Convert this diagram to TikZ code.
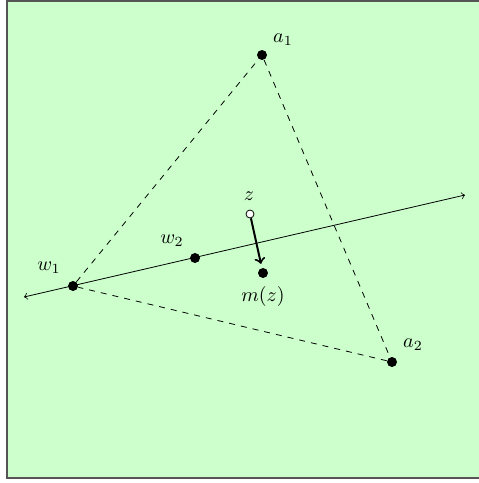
\documentclass[tikz,border=0pt]{standalone}
\definecolor{bgfill}{HTML}{CCFFCC}
\definecolor{framecol}{HTML}{555555}
\tikzset{
  dot/.style={circle,fill=black,inner sep=0pt,minimum size=5pt},
  opendot/.style={circle,draw=black,fill=white,inner sep=0pt,minimum size=4pt,line width=0.4pt},
  lbl/.style={inner sep=0pt}
}
\begin{document}
\begin{tikzpicture}[x=0.5pt,y=-0.5pt]
\useasboundingbox (0,0) rectangle (478,483);
\draw[framecol,fill=bgfill,line width=1pt] (7,1) rectangle (482,478);
% points
\node[dot] (a1) at (262,55) {};
\node[dot] (a2) at (392,362) {};
\node[dot] (w1) at (73,286) {};
\node[dot] (w2) at (195,258) {};
\node[dot] (mz) at (263,273) {};
\coordinate (L) at (24,297);
\coordinate (R) at (465,195);
% triangle
\draw[dashed] (w1) -- (a1) -- (a2) -- (w1);
% line
\draw[<->] (L) -- (R);
% arrow
\node[opendot] (z) at (250,214) {};
\draw[->,line width=1pt,shorten >=2pt] (z) -- (mz);
% labels
\node[lbl] (la1) at (283,40) {$a_1$};
\node[lbl] (la2) at (413,345) {$a_2$};
\node[lbl] (lw1) at (49,268) {$w_1$};
\node[lbl] (lw2) at (172,241) {$w_2$};
\node[lbl] (lz) at (249,196) {$z$};
\node[lbl] (lmz) at (263,296) {$m(z)$};
\end{tikzpicture}
\end{document}
